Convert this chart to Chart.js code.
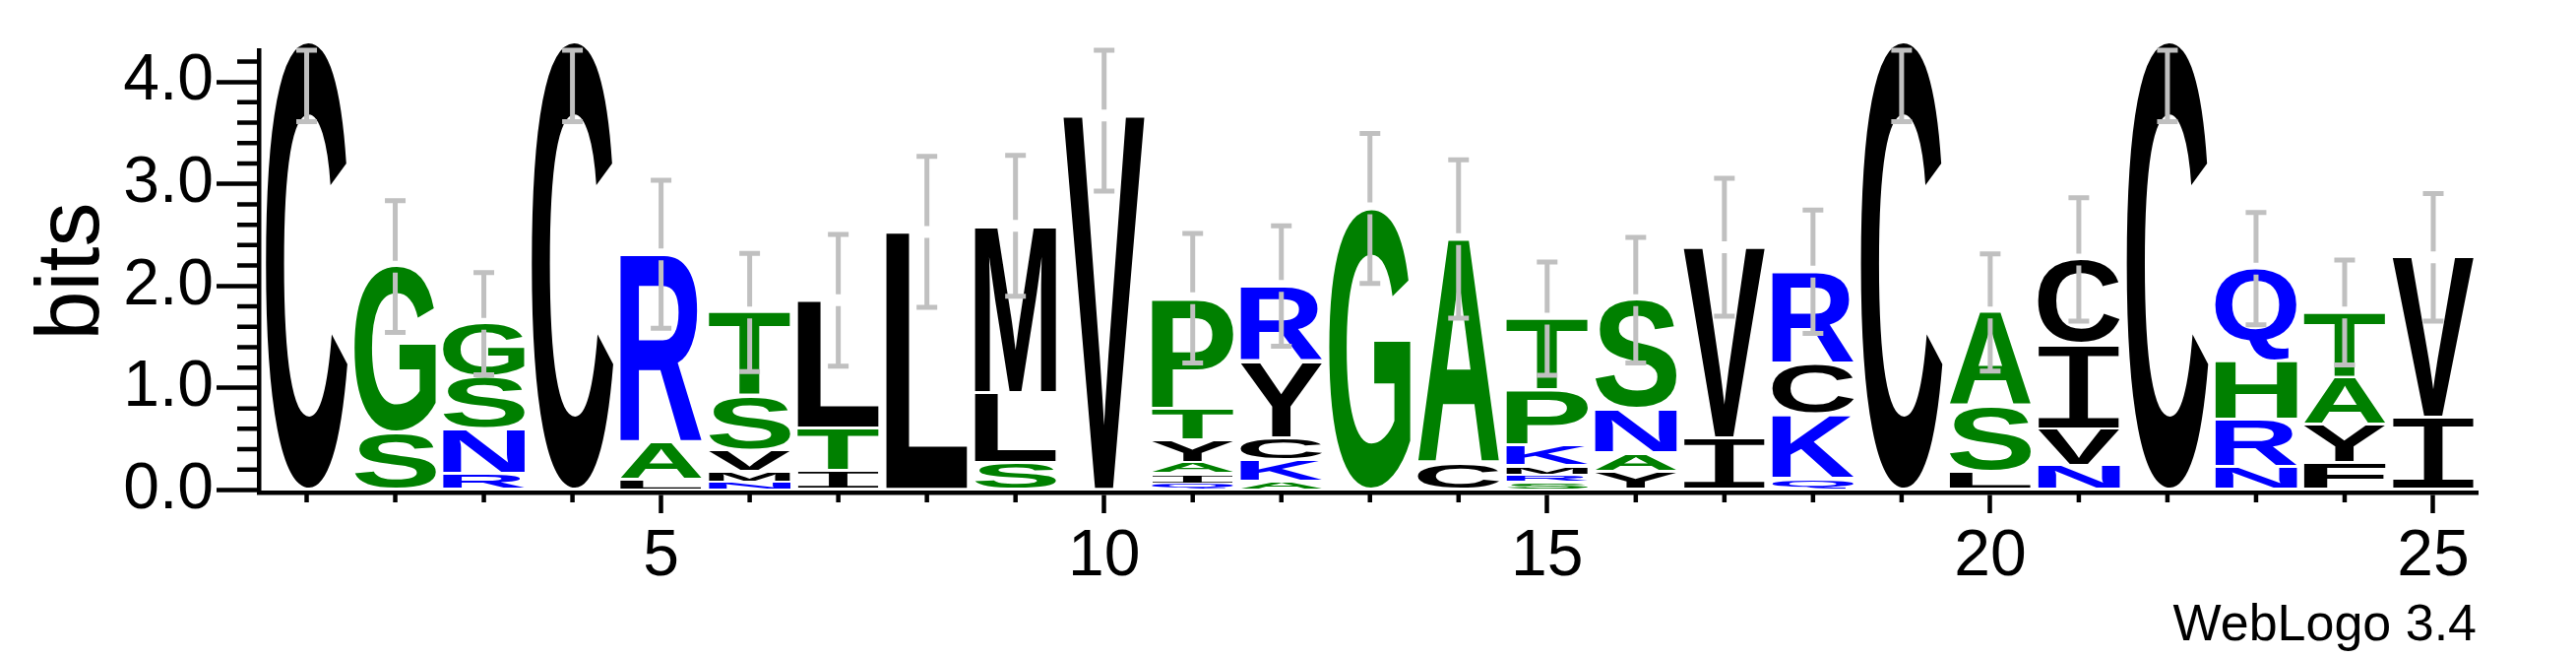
<!DOCTYPE html>
<html><head><meta charset="utf-8">
<script src="https://cdn.jsdelivr.net/npm/chart.js@4.4.1/dist/chart.umd.min.js"></script>
<style>html,body{margin:0;padding:0;background:#fff;}#wrap{width:2617px;height:667px;}</style>
</head><body><div id="wrap"><canvas id="c" width="2617" height="667"></canvas></div>
<script>
// ---- data (bits per letter, stacked bottom -> top) ----
const positions = [1,2,3,4,5,6,7,8,9,10,11,12,13,14,15,16,17,18,19,20,21,22,23,24,25];

const layer1Letters = ['C','S','R','C','L','N','I','L','S','V','Q','A','G','C','S','Y','I','Q','C','L','N','C','N','F','I'];
const layer1Bits    = [4.40,0.56,0.16,4.40,0.10,0.08,0.19,2.53,0.27,3.67,0.06,0.08,2.76,0.26,0.08,0.18,0.51,0.11,4.40,0.18,0.24,4.40,0.23,0.27,0.71];

const layer2Letters = ['','G','N','','A','M','T','','L','','I','K','','A','R','A','V','K','','S','V','','R','Y','V'];
const layer2Bits    = [0,1.63,0.44,0,0.36,0.10,0.42,0,0.68,0,0.10,0.21,0,2.20,0.07,0.18,1.87,0.63,0,0.64,0.36,0,0.46,0.37,1.57];

const layer3Letters = ['','','S','','R','V','L','','M','','A','C','','','M','N','','C','','A','I','','H','A',''];
const layer3Bits    = [0,0,0.51,0,1.85,0.21,1.25,0,1.64,0,0.11,0.22,0,0,0.09,0.43,0,0.50,0,0.92,0.83,0,0.57,0.46,0];

const layer4Letters = ['','','G','','','S','','','','','Y','Y','','','K','S','','R','','','C','','Q','T',''];
const layer4Bits    = [0,0,0.52,0,0,0.53,0,0,0,0,0.22,0.75,0,0,0.20,1.07,0,0.90,0,0,0.83,0,0.91,0.64,0];

const layer5Letters = ['','','','','','T','','','','','T','R','','','P','','','','','','','','','',''];
const layer5Bits    = [0,0,0,0,0,0.82,0,0,0,0,0.31,0.74,0,0,0.54,0,0,0,0,0,0,0,0,0,0];

const layer6Letters = ['','','','','','','','','','','P','','','','T','','','','','','','','','',''];
const layer6Bits    = [0,0,0,0,0,0,0,0,0,0,1.08,0,0,0,0.70,0,0,0,0,0,0,0,0,0,0];

const errorBits = [0.79,0.645,0.50,0.79,0.725,0.58,0.645,0.74,0.69,0.74,0.635,0.59,0.735,0.775,0.555,0.615,0.675,0.605,0.79,0.575,0.605,0.79,0.55,0.515,0.625];

const yTickValues = [0,1,2,3,4];
const xLabelEvery = 5;
const yTitle = 'bits';
const creditText = 'WebLogo 3.4';

// ---- styling ----
const GREEN = '#008000', BLUE = '#0000ff', BLACK = '#000000';
const colorOf = {C:BLACK,L:BLACK,M:BLACK,V:BLACK,I:BLACK,Y:BLACK,F:BLACK,W:BLACK,
                 G:GREEN,S:GREEN,T:GREEN,A:GREEN,P:GREEN,H:GREEN,
                 R:BLUE,N:BLUE,K:BLUE,Q:BLUE,D:BLUE,E:BLUE};
const Y_MIN = -0.024, Y_MAX = 4.31;

const layers = [
  [layer1Letters, layer1Bits],[layer2Letters, layer2Bits],[layer3Letters, layer3Bits],
  [layer4Letters, layer4Bits],[layer5Letters, layer5Bits],[layer6Letters, layer6Bits]
];

const datasets = layers.map(([letters, bits], k) => ({
  label: 'layer ' + (k + 1),
  data: positions.map((p, j) => ({x: p, y: bits[j]})),
  letters: letters,
  backgroundColor: 'rgba(0,0,0,0)',
  borderWidth: 0,
  categoryPercentage: 1,
  barPercentage: 0.92
}));

function drawGlyph(ctx, ch, color, left, top, w, h) {
  if (h < 0.5) h = 0.5;
  ctx.save();
  ctx.font = ch === 'I' ? "normal 200px 'Liberation Mono'" : "bold 200px 'Liberation Sans'";
  ctx.textAlign = 'left';
  ctx.textBaseline = 'alphabetic';
  const m = ctx.measureText(ch);
  const bw = m.actualBoundingBoxLeft + m.actualBoundingBoxRight;
  const bh = m.actualBoundingBoxAscent + m.actualBoundingBoxDescent;
  ctx.translate(left, top);
  ctx.scale(w / bw, h / bh);
  ctx.fillStyle = color;
  ctx.fillText(ch, m.actualBoundingBoxLeft, m.actualBoundingBoxAscent);
  ctx.restore();
}

const minorTicks = {
  id: 'minorTicks',
  beforeDatasetsDraw(chart) {
    const ctx = chart.ctx, ys = chart.scales.y, xs = chart.scales.x;
    ctx.save();
    ctx.strokeStyle = '#000';
    ctx.lineWidth = 4.5;
    ctx.beginPath();
    for (let k = 1; k * 0.2 < Y_MAX; k++) {
      if (k % 5 === 0) continue;
      const py = ys.getPixelForValue(k * 0.2);
      ctx.moveTo(ys.right - 22, py); ctx.lineTo(ys.right, py);
    }
    positions.forEach(p => {
      if (p % xLabelEvery === 0) return;
      const px = xs.getPixelForValue(p);
      ctx.moveTo(px, xs.top); ctx.lineTo(px, xs.top + 10);
    });
    ctx.stroke();
    ctx.restore();
  }
};

const letterStacks = {
  id: 'letterStacks',
  afterDatasetsDraw(chart) {
    const ctx = chart.ctx;
    chart.data.datasets.forEach((ds, i) => {
      const meta = chart.getDatasetMeta(i);
      meta.data.forEach((el, j) => {
        const ch = ds.letters[j];
        if (!ch || !ds.data[j].y) return;
        const {x, y, base, width} = el.getProps(['x', 'y', 'base', 'width'], true);
        const h = base - y;
        const mt = Math.min(1.2, h * 0.12), mb = Math.min(1.8, h * 0.15);
        drawGlyph(ctx, ch, colorOf[ch] || BLACK, x - width / 2, y + mt, width, h - mt - mb);
      });
    });
    // error bars
    const ys = chart.scales.y, xs = chart.scales.x;
    ctx.save();
    ctx.strokeStyle = '#c0c0c0';
    ctx.lineWidth = 5;
    ctx.lineCap = 'butt';
    positions.forEach((p, j) => {
      const total = layers.reduce((s, L) => s + L[1][j], 0);
      const e = errorBits[j];
      const px = xs.getPixelForValue(p);
      const cy = ys.getPixelForValue(total);
      const up = ys.getPixelForValue(Math.min(total + e, Y_MAX));
      const lo = ys.getPixelForValue(total - e);
      ctx.beginPath();
      if (cy - 6 > up) { ctx.moveTo(px, up); ctx.lineTo(px, cy - 6); }
      ctx.moveTo(px, Math.max(cy + 6, up)); ctx.lineTo(px, lo);
      ctx.moveTo(px - 10.5, up); ctx.lineTo(px + 10.5, up);
      ctx.moveTo(px - 10.5, lo); ctx.lineTo(px + 10.5, lo);
      ctx.stroke();
    });
    ctx.restore();
  }
};

const credit = {
  id: 'credit',
  afterDraw(chart) {
    const ctx = chart.ctx;
    ctx.save();
    ctx.font = "52px 'Liberation Sans'";
    ctx.fillStyle = '#000';
    ctx.textAlign = 'right';
    ctx.textBaseline = 'alphabetic';
    ctx.fillText(creditText, chart.scales.x.right - 1, 650);
    ctx.restore();
  }
};

new Chart(document.getElementById('c'), {
  type: 'bar',
  data: {datasets},
  plugins: [minorTicks, letterStacks, credit],
  options: {
    responsive: false,
    animation: false,
    devicePixelRatio: 1,
    events: [],
    layout: {padding: {top: 51, right: 100, bottom: 0, left: 0}},
    plugins: {legend: {display: false}, tooltip: {enabled: false}, title: {display: false}},
    scales: {
      x: {
        type: 'linear', min: 0.461, max: 25.5, stacked: true, offset: false,
        afterFit(s) { s.height = 167; },
        border: {display: true, width: 4.5, color: '#000'},
        grid: {display: true, offset: false, drawOnChartArea: false, drawTicks: true, tickLength: 21, tickWidth: 4.5,
               tickColor: c => (c.tick && c.tick.value % xLabelEvery === 0) ? '#000' : 'rgba(0,0,0,0)'},
        ticks: {stepSize: 1, includeBounds: false, autoSkip: false, maxRotation: 0, minRotation: 0, padding: 5,
                color: '#000', font: {family: "'Liberation Sans'", size: 66},
                callback: v => (v % xLabelEvery === 0) ? String(v) : ''}
      },
      y: {
        type: 'linear', min: Y_MIN, max: Y_MAX, stacked: true,
        afterFit(s) { s.width = 263; },
        afterBuildTicks(s) { s.ticks = yTickValues.map(v => ({value: v})); },
        border: {display: true, width: 4.5, color: '#000'},
        grid: {display: true, drawOnChartArea: false, drawTicks: true, tickLength: 43, tickWidth: 4.5, tickColor: '#000'},
        ticks: {padding: 3, color: '#000', font: {family: "'Liberation Sans'", size: 66},
                callback: v => Number(v).toFixed(1)},
        title: {display: true, text: yTitle, color: '#000', font: {family: "'Liberation Sans'", size: 90},
                padding: {top: 21, bottom: 0}}
      }
    }
  }
});
</script></body></html>
